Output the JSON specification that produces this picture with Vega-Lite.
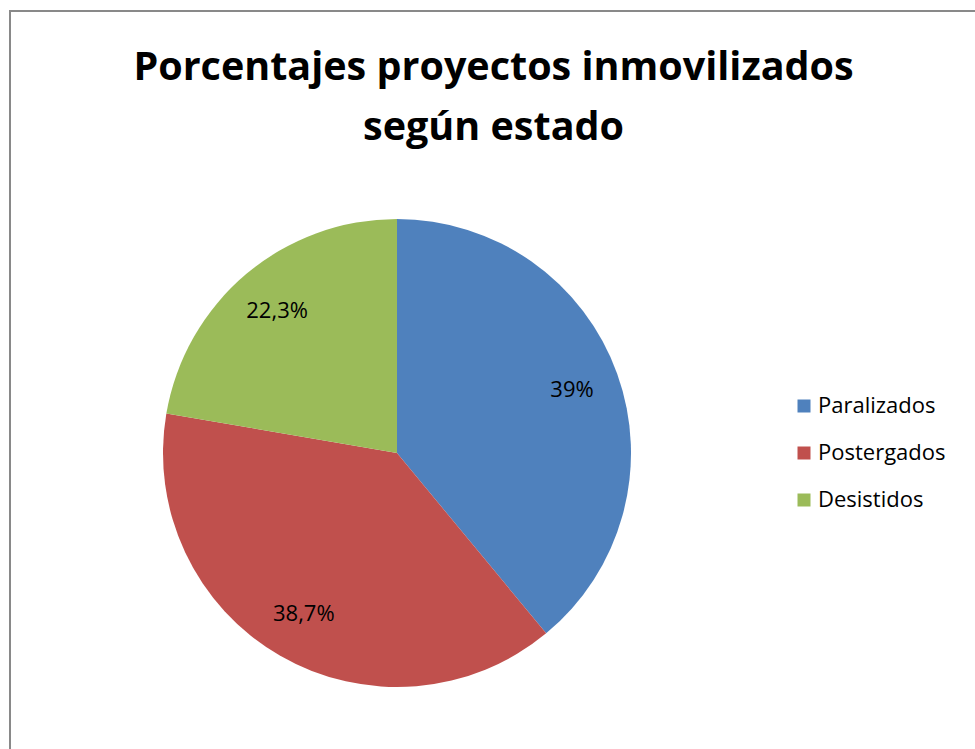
{
  "$schema": "https://vega.github.io/schema/vega-lite/v6.json",
  "width": 967,
  "height": 740,
  "autosize": "none",
  "padding": {"left": 10, "top": 11, "right": 0, "bottom": 0},
  "background": "white",
  "view": {"stroke": "#898989", "strokeWidth": 2},
  "title": {
    "text": ["Porcentajes proyectos inmovilizados", "según estado"],
    "anchor": "middle",
    "frame": "group",
    "orient": "top",
    "offset": -168,
    "baseline": "alphabetic",
    "font": "Open Sans",
    "fontSize": 39.5,
    "fontWeight": "bold",
    "color": "#000000",
    "lineHeight": 60
  },
  "data": {
    "values": [
      {"estado": "Paralizados", "porcentaje": 39.0, "etiqueta": "39%", "orden": 1},
      {"estado": "Postergados", "porcentaje": 38.7, "etiqueta": "38,7%", "orden": 2},
      {"estado": "Desistidos", "porcentaje": 22.3, "etiqueta": "22,3%", "orden": 3}
    ]
  },
  "encoding": {
    "theta": {"field": "porcentaje", "type": "quantitative", "stack": true},
    "order": {"field": "orden", "type": "quantitative"}
  },
  "layer": [
    {
      "mark": {"type": "arc", "outerRadius": 234, "x": {"expr": "387"}, "y": {"expr": "442"}},
      "encoding": {
        "color": {
          "field": "estado",
          "type": "nominal",
          "scale": {"domain": ["Paralizados", "Postergados", "Desistidos"], "range": ["#4F81BD", "#C0504D", "#9BBB59"]},
          "legend": {
            "title": null,
            "orient": "none",
            "legendX": 783,
            "legendY": 384,
            "symbolType": "square",
            "symbolSize": 169,
            "symbolStrokeWidth": 0,
            "labelFont": "Open Sans",
            "labelFontSize": 22,
            "labelColor": "#000000",
            "labelOffset": 3,
            "rowPadding": 25
          }
        }
      }
    },
    {
      "mark": {"type": "text", "radius": 186, "x": {"expr": "387"}, "y": {"expr": "442"}, "font": "Open Sans", "fontSize": 22, "color": "#000000"},
      "encoding": {
        "text": {"field": "etiqueta", "type": "nominal"}
      }
    }
  ]
}
